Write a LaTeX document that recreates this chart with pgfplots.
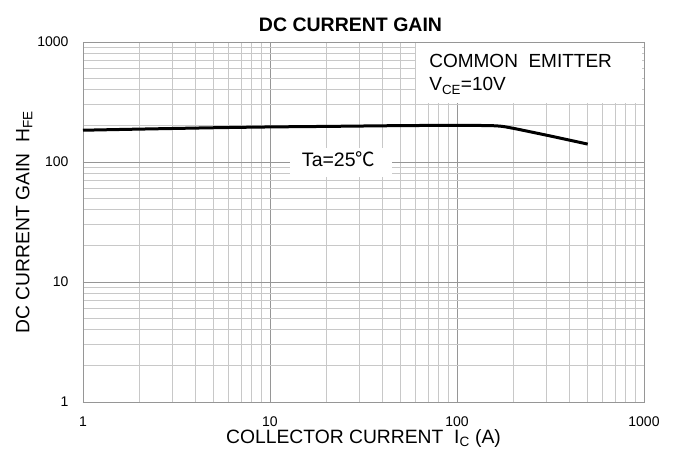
\documentclass[border=0pt]{standalone}
\usepackage{pgfplots}
\pgfplotsset{compat=1.18}
\usepackage{fontspec}
\setmainfont{Liberation Sans}
\newfontfamily\cjk{Noto Sans CJK SC}
\definecolor{majgrid}{RGB}{150,150,150}
\definecolor{mingrid}{RGB}{200,200,200}
\begin{document}
\begin{tikzpicture}[x=1pt,y=1pt]
\useasboundingbox (-83,-56) rectangle (595,402);
\begin{axis}[
  at={(0,0)}, anchor=south west,
  scale only axis, width=561pt, height=360pt,
  xmode=log, ymode=log,
  xmin=1, xmax=1000, ymin=1, ymax=1000,
  xtick={1,10,100,1000}, xticklabels={1,10,100,1000},
  ytick={1,10,100,1000}, yticklabels={1,10,100,1000},
  grid=both,
  major grid style={draw=majgrid, line width=0.8pt},
  minor grid style={draw=mingrid, line width=0.8pt},
  axis line style={draw=majgrid, line width=0.8pt},
  major tick style={draw=none}, minor tick style={draw=none},
  tick label style={font=\fontsize{14}{16}\selectfont},
  xticklabel style={yshift=-11pt},
  yticklabel style={xshift=-11pt},
  title={\bfseries DC CURRENT GAIN},
  title style={font=\fontsize{19.5}{22}\selectfont, yshift=1pt, xshift=-13pt},
  xlabel={COLLECTOR CURRENT\ \ I\textsubscript{C} (A)},
  ylabel={DC CURRENT GAIN\ \ H\textsubscript{FE}},
  label style={font=\fontsize{19.3}{22}\selectfont},
  xlabel style={yshift=4pt},
  ylabel style={yshift=-2pt},
]
\fill[white] (axis description cs:0.594,0.831) rectangle (axis description cs:0.997,0.997);
\fill[white] (axis description cs:0.369,0.625) rectangle (axis description cs:0.551,0.706);
\addplot[black, line width=3pt, smooth, tension=0.4] coordinates {
 (1,184) (2,188) (5,193) (10,196) (20,198) (50,201) (100,202) (150,201) (175,198)
 (210,188) (314,165) (500,141)
};
\node[anchor=north west, align=left, font=\fontsize{19}{23}\selectfont, inner sep=0pt]
  at (axis description cs:0.617,0.966) {COMMON\ \ EMITTER\\V\textsubscript{CE}=10V};
\node[anchor=base west, font=\fontsize{19.5}{21}\selectfont, inner sep=0pt]
  at (axis description cs:0.390,0.655) {Ta=25{\cjk ℃}};
\end{axis}
\end{tikzpicture}
\end{document}
